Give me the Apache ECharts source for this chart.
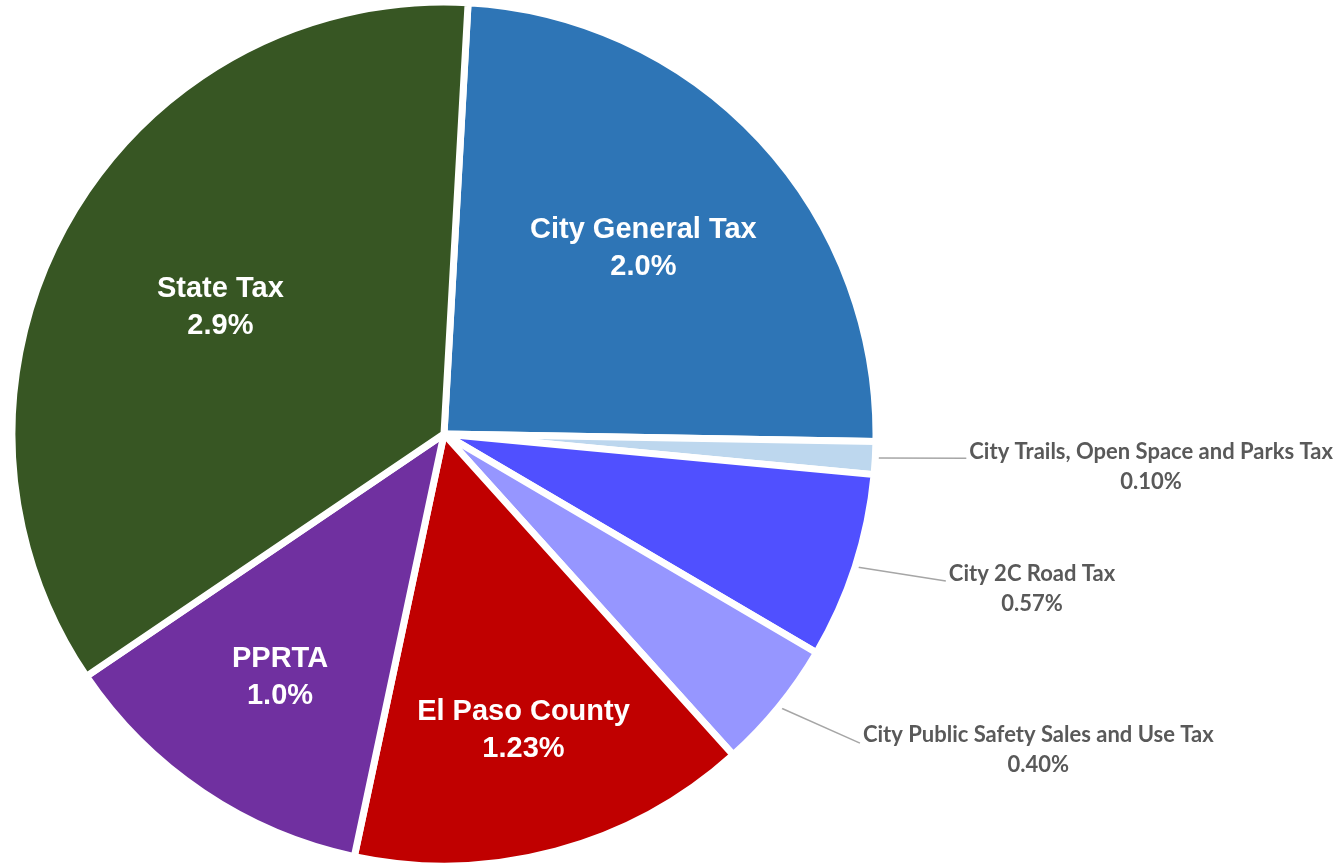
<!DOCTYPE html>
<html>
<head>
<meta charset="utf-8">
<script src="https://cdn.jsdelivr.net/npm/echarts@6/dist/echarts.min.js"></script>
<style>
html,body{margin:0;padding:0;background:#fff;}
#chart{width:1339px;height:866px;}
</style>
</head>
<body>
<div id="chart"></div>
<script>
// ---- data ----
const categories = [
  'City General Tax',
  'City Trails, Open Space and Parks Tax',
  'City 2C Road Tax',
  'City Public Safety Sales and Use Tax',
  'El Paso County',
  'PPRTA',
  'State Tax'
];
const rates = [2.0, 0.10, 0.57, 0.40, 1.23, 1.0, 2.9];
const rateLabels = ['2.0%', '0.10%', '0.57%', '0.40%', '1.23%', '1.0%', '2.9%'];

// ---- style ----
const colors = ['#2E75B6', '#BDD7EE', '#5050FF', '#9696FF', '#C00000', '#7030A0', '#375623'];
const CX = 444, CY = 434, R = 432;
const insideSet = { 0: 0.63, 4: 0.71, 5: 0.68, 6: 0.595 }; // radial fraction of inside labels
const outsideLine = { 1: [4, 87], 2: [46, 47], 3: [57, 37] };
const outsideDy = { 1: 9, 2: 8, 3: 7 };

const data = categories.map((name, i) => {
  const item = { name: name, value: rates[i], itemStyle: { color: colors[i] } };
  if (insideSet[i] !== undefined) {
    item.label = {
      show: true,
      position: 'inside',
      formatter: name + '\n' + rateLabels[i],
      color: '#ffffff',
      fontFamily: '"Liberation Sans", Arial, sans-serif',
      fontWeight: 'bold',
      fontSize: 29,
      lineHeight: 37,
      align: 'center'
    };
    item.labelLine = { show: false };
  } else {
    item.label = {
      show: true,
      position: 'outside',
      distanceToLabelLine: 3,
      formatter: '{n|' + name + '}\n{n|' + rateLabels[i] + '}',
      rich: {
        n: {
          align: 'center',
          fontFamily: 'Lato, "Open Sans", sans-serif',
          fontWeight: 'bold',
          fontSize: 22,
          lineHeight: 30,
          color: '#595959'
        }
      }
    };
    item.labelLine = {
      show: true,
      length: outsideLine[i][0],
      length2: outsideLine[i][1],
      lineStyle: { color: '#A6A6A6', width: 1.5 }
    };
  }
  return item;
});

const chart = echarts.init(document.getElementById('chart'), null, { renderer: 'canvas' });
chart.setOption({
  backgroundColor: '#ffffff',
  animation: false,
  series: [{
    type: 'pie',
    center: [CX, CY],
    radius: [0, R],
    startAngle: 86.8,
    clockwise: true,
    avoidLabelOverlap: false,
    itemStyle: { borderColor: '#ffffff', borderWidth: 7 },
    emphasis: { disabled: true },
    data: data,
    labelLayout: function (params) {
      const i = params.dataIndex;
      if (insideSet[i] !== undefined) {
        const r = params.labelRect;
        const lx = r.x + r.width / 2, ly = r.y + r.height / 2;
        const k = insideSet[i] * R / Math.hypot(lx - CX, ly - CY);
        return { x: CX + (lx - CX) * k, y: CY + (ly - CY) * k };
      }
      const pts = params.labelLinePoints;
      const out = { dy: outsideDy[i] };
      if (pts && pts.length >= 2) {
        out.labelLinePoints = [pts[0], pts[pts.length - 1]];
      }
      return out;
    }
  }]
});
</script>
</body>
</html>
